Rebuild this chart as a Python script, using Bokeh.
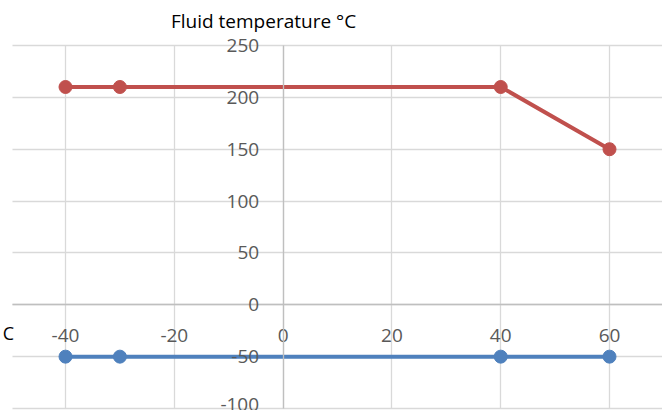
from bokeh.plotting import figure
from bokeh.models import Label, FixedTicker, Range1d
from bokeh.embed import file_html
from bokeh.resources import INLINE

ambient = [-40, -30, 40, 60]
fluid_max = [210, 210, 210, 150]
fluid_min = [-50, -50, -50, -50]
x_ticks = [-40, -20, 0, 20, 40, 60]
y_ticks = [-100, -50, 0, 50, 100, 150, 200, 250]
y_title = "Fluid temperature °C"
x_title_visible = "C"

RED = "#C0504D"
BLUE = "#4F81BD"

X0, X1 = -49.7, 69.74
Y0, Y1 = -100, 250

p = figure(width=662, height=410, output_backend="svg", toolbar_location=None,
           x_range=Range1d(-51.95, X1), y_range=Range1d(-101.93, 293.4),
           min_border_left=0, min_border_right=0, min_border_top=0, min_border_bottom=0)
p.outline_line_color = None
p.background_fill_color = "white"

for ax in (p.xaxis[0], p.yaxis[0]):
    ax.fixed_location = 0
    ax.axis_line_color = "#bfbfbf"
    ax.axis_line_width = 1.3
    ax.major_tick_line_color = None
    ax.minor_tick_line_color = None
    ax.major_label_text_color = "#595959"
    ax.major_label_text_font = "Open Sans"
    ax.major_label_text_font_size = "19px"
    ax.major_label_standoff = 18

p.xaxis.ticker = FixedTicker(ticks=x_ticks)
p.yaxis.ticker = FixedTicker(ticks=y_ticks)
p.xaxis.major_label_overrides = {t: str(t) for t in x_ticks}
p.yaxis.major_label_overrides = {t: str(t) for t in y_ticks}
p.xaxis.bounds = (X0, X1)
p.yaxis.bounds = (Y0, Y1)

p.xgrid.ticker = FixedTicker(ticks=x_ticks)
p.ygrid.ticker = FixedTicker(ticks=y_ticks)
p.xgrid.cross_bounds = (Y0, Y1)
p.ygrid.cross_bounds = (X0, X1)
p.grid.grid_line_color = "#d9d9d9"
p.grid.grid_line_width = 1.3

p.line(ambient, fluid_max, line_color=RED, line_width=4)
p.scatter(ambient, fluid_max, size=13, fill_color=RED, line_color=RED)
p.line(ambient, fluid_min, line_color=BLUE, line_width=4)
p.scatter(ambient, fluid_min, size=13, fill_color=BLUE, line_color=BLUE)

p.add_layout(Label(x=-3.6, y=274, text=y_title, text_align="center", text_baseline="middle",
                   text_font="Open Sans", text_font_size="19px", text_color="black"))
p.add_layout(Label(x=-50.5, y=-27, text=x_title_visible, text_align="center", text_baseline="middle",
                   text_font="Open Sans", text_font_size="18px", text_color="black"))

open("out.html", "w").write(file_html(p, INLINE))
